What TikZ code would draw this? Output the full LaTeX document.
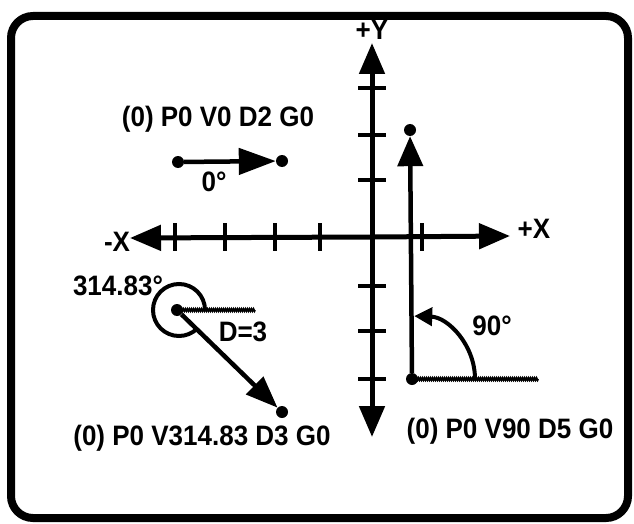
\documentclass[tikz,border=0pt]{standalone}
\usepackage{fontspec}
\setmainfont{Liberation Sans}
\usetikzlibrary{arrows.meta,decorations.pathmorphing}
\begin{document}
\begin{tikzpicture}[x=1pt,y=-1pt,
  lbl/.style={font=\fontsize{26}{28}\selectfont\bfseries, inner sep=0pt, yscale=1.08},
  dot/.style={circle,fill=black,inner sep=0pt,minimum size=12pt},
  axisline/.style={line width=5pt},
  bigtip/.style={-{Triangle[length=31pt,width=25pt]}},
  tickmark/.style={line width=4.5pt},
  seg/.style={line width=4.5pt},
  arcline/.style={line width=4pt},
  hatch/.style={line width=2pt, decorate, decoration={zigzag, segment length=2pt, amplitude=1pt}},
  frame/.style={line width=8pt, rounded corners=22pt}
]
\useasboundingbox (0,0) rectangle (634,524);
\draw[frame] (11,16) rectangle (628,518);

% axes
\coordinate (o) at (372,237);
\coordinate (yt) at (372,43);
\coordinate (yb) at (372,437);
\coordinate (xl) at (130,238);
\coordinate (xr) at (510,236);
\draw[axisline,bigtip] (o) -- (yt);
\draw[axisline,bigtip] (o) -- (yb);
\draw[axisline,bigtip] (o) -- (xl);
\draw[axisline,bigtip] (o) -- (xr);
\foreach \tx in {175,225,275,320,422} \draw[tickmark] (\tx,223) -- (\tx,251);
\foreach \ty in {88,135,180,286,331,379} \draw[tickmark] (358,\ty) -- (386,\ty);
\node[lbl] (ly) at (372,30) {+Y};
\node[lbl] (lxm) at (117,242) {-X};
\node[lbl] (lxp) at (534,229) {+X};

% segment 1: V0 D2
\node[lbl] (t1) at (218,119) {(0) P0 V0 D2 G0};
\node[dot] (a1) at (178,162) {};
\node[dot] (a2) at (282,161) {};
\draw[seg,-{Triangle[length=37pt,width=26pt]}] (a1) -- (a2);
\node[lbl] (d1) at (214,182) {0°};

% segment 2: V314.83 D3
\node[dot] (b1) at (177,310) {};
\node[dot] (b2) at (282,412) {};
\coordinate (b1h) at (255,310);
\draw[hatch] (b1.center) -- (b1h);
\draw[arcline] (205,310) arc[start angle=0, end angle=-315, radius=26];
\draw[seg,-{Triangle[length=32pt,width=24pt]}] (b1) -- (b2);
\node[lbl] (d2) at (118,286) {314.83°};
\node[lbl] (dd) at (243,332) {D=3};
\node[lbl] (t2) at (202,438) {(0) P0 V314.83 D3 G0};

% segment 3: V90 D5
\node[dot] (c1) at (412,379) {};
\node[dot] (c2) at (410,130) {};
\coordinate (c1h) at (538,379);
\draw[hatch] (c1.center) -- (c1h);
\draw[seg,-{Triangle[length=30pt,width=25pt]}] (c1) -- (c2);
\draw[arcline,-{Triangle[length=18pt,width=18pt]}] (475,379) arc[start angle=0, end angle=-88, radius=63];
\node[lbl] (d3) at (492,326) {90°};
\node[lbl] (t3) at (510,431) {(0) P0 V90 D5 G0};
\end{tikzpicture}
\end{document}
